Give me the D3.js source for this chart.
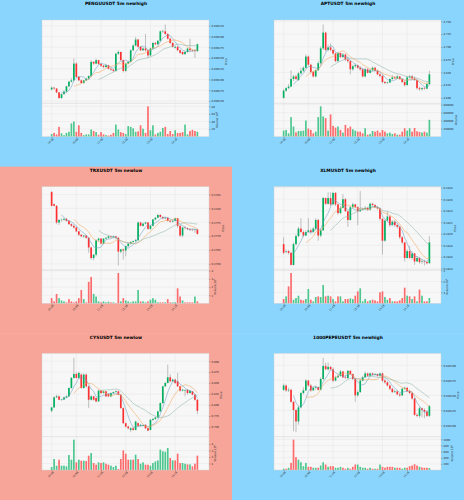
<!DOCTYPE html>
<meta charset="utf-8">
<title>5m scanner</title>
<style>
  body { margin: 0; background: #fff; }
  text { font-family: "DejaVu Sans", sans-serif; }
</style>
<body>
<script src="https://cdn.jsdelivr.net/npm/d3@7/dist/d3.min.js"></script>
<script>

var W = 464, H = 500;
var panelW = 232, panelH = 500 / 3;
var blue = '#8ad5fd', salmon = '#f7a598';

// x tick labels (every 10 candles)
var timeIdx = [0, 10, 20, 30, 40, 50];
var timeLabels = ['10:05', '10:55', '11:45', '12:35', '13:25', '14:15'];

// ---------- PENGUUSDT  [open, high, low, close]
var penguOHLC = [
  [0.009177,0.009184,0.009175,0.009181],[0.009181,0.009182,0.009177,0.009179],[0.009179,0.009180,0.009168,0.009170],
  [0.009170,0.009171,0.009155,0.009157],[0.009157,0.009168,0.009155,0.009166],[0.009166,0.009175,0.009164,0.009172],
  [0.009172,0.009186,0.009170,0.009184],[0.009184,0.009197,0.009182,0.009195],[0.009195,0.009203,0.009193,0.009198],
  [0.009198,0.009249,0.009196,0.009237],[0.009237,0.009240,0.009204,0.009206],[0.009206,0.009208,0.009196,0.009198],
  [0.009198,0.009200,0.009190,0.009192],[0.009192,0.009199,0.009190,0.009198],[0.009198,0.009204,0.009196,0.009202],
  [0.009202,0.009210,0.009200,0.009208],[0.009208,0.009245,0.009206,0.009241],[0.009241,0.009243,0.009234,0.009237],
  [0.009237,0.009248,0.009235,0.009245],[0.009245,0.009246,0.009234,0.009236],[0.009236,0.009238,0.009229,0.009232],
  [0.009232,0.009234,0.009226,0.009229],[0.009229,0.009235,0.009227,0.009233],[0.009233,0.009234,0.009223,0.009225],
  [0.009225,0.009227,0.009220,0.009223],[0.009223,0.009224,0.009217,0.009220],[0.009220,0.009262,0.009218,0.009260],
  [0.009260,0.009268,0.009257,0.009264],[0.009264,0.009265,0.009243,0.009245],[0.009245,0.009247,0.009216,0.009220],
  [0.009220,0.009239,0.009218,0.009237],[0.009237,0.009244,0.009235,0.009241],[0.009241,0.009270,0.009239,0.009268],
  [0.009268,0.009282,0.009266,0.009279],[0.009279,0.009299,0.009277,0.009293],[0.009293,0.009294,0.009274,0.009276],
  [0.009276,0.009278,0.009266,0.009268],[0.009268,0.009275,0.009266,0.009272],[0.009272,0.009306,0.009265,0.009268],
  [0.009268,0.009270,0.009250,0.009256],[0.009256,0.009274,0.009254,0.009272],[0.009272,0.009287,0.009270,0.009285],
  [0.009285,0.009288,0.009280,0.009282],[0.009282,0.009292,0.009280,0.009290],[0.009290,0.009314,0.009288,0.009312],
  [0.009312,0.009316,0.009308,0.009313],[0.009312,0.009328,0.009304,0.009306],[0.009306,0.009308,0.009293,0.009295],
  [0.009295,0.009297,0.009283,0.009285],[0.009285,0.009287,0.009274,0.009276],[0.009274,0.009279,0.009272,0.009276],
  [0.009276,0.009278,0.009266,0.009268],[0.009268,0.009270,0.009260,0.009262],[0.009264,0.009266,0.009257,0.009259],
  [0.009259,0.009266,0.009257,0.009264],[0.009264,0.009274,0.009262,0.009272],[0.009272,0.009295,0.009266,0.009268],
  [0.009268,0.009270,0.009264,0.009267],[0.009268,0.009270,0.009250,0.009266],[0.009266,0.009284,0.009264,0.009282]
];
var penguVol = [7e6,10e6,6e6,26e6,9e6,4e6,10e6,13e6,35e6,40e6,13e6,30e6,10e6,4e6,6e6,6e6,19e6,15e6,12e6,5e6,
  12e6,6e6,4e6,3e6,5e6,10e6,32e6,19e6,12e6,10e6,7e6,28e6,26e6,22e6,13e6,14e6,30e6,21e6,10e6,80e6,
  17e6,30e6,6e6,10e6,13e6,23e6,26e6,7e6,15e6,7e6,17e6,10e6,10e6,12e6,32e6,6e6,15e6,18e6,15e6,13e6];
var penguPriceTicks = [0.009150,0.009175,0.009200,0.009225,0.009250,0.009275,0.009300,0.009325];
var penguVolTicks = [20e6,40e6,60e6,80e6];

// ---------- APTUSDT
var aptOHLC = [
  [4.600,4.617,4.598,4.614],[4.614,4.621,4.612,4.619],[4.619,4.627,4.617,4.622],[4.622,4.654,4.621,4.637],
  [4.637,4.645,4.633,4.642],[4.642,4.645,4.635,4.637],[4.635,4.651,4.633,4.648],[4.648,4.659,4.646,4.653],
  [4.653,4.662,4.651,4.659],[4.659,4.685,4.657,4.681],[4.681,4.683,4.663,4.665],[4.665,4.667,4.648,4.651],
  [4.651,4.653,4.640,4.642],[4.642,4.656,4.640,4.654],[4.654,4.672,4.653,4.668],[4.668,4.701,4.665,4.697],
  [4.697,4.744,4.694,4.728],[4.728,4.730,4.691,4.694],[4.694,4.704,4.691,4.699],[4.699,4.707,4.691,4.694],
  [4.694,4.695,4.685,4.687],[4.687,4.688,4.670,4.672],[4.672,4.689,4.670,4.688],[4.688,4.689,4.678,4.680],
  [4.680,4.688,4.678,4.685],[4.685,4.687,4.672,4.675],[4.675,4.680,4.669,4.672],[4.672,4.674,4.646,4.656],
  [4.656,4.665,4.653,4.662],[4.662,4.668,4.659,4.664],[4.664,4.665,4.657,4.659],[4.659,4.662,4.653,4.656],
  [4.656,4.659,4.640,4.642],[4.642,4.659,4.640,4.656],[4.656,4.659,4.648,4.649],[4.649,4.657,4.648,4.654],
  [4.654,4.662,4.653,4.659],[4.659,4.661,4.651,4.653],[4.653,4.655,4.645,4.646],[4.646,4.649,4.640,4.643],
  [4.643,4.645,4.628,4.631],[4.631,4.633,4.627,4.629],[4.629,4.632,4.627,4.630],[4.630,4.638,4.629,4.637],
  [4.637,4.645,4.635,4.640],[4.640,4.643,4.637,4.638],[4.638,4.645,4.637,4.642],[4.642,4.643,4.635,4.637],
  [4.637,4.638,4.629,4.631],[4.631,4.633,4.622,4.625],[4.625,4.643,4.624,4.640],[4.640,4.645,4.638,4.642],
  [4.642,4.645,4.635,4.638],[4.638,4.642,4.633,4.635],[4.635,4.638,4.616,4.619],[4.619,4.622,4.614,4.617],
  [4.617,4.621,4.614,4.619],[4.619,4.622,4.616,4.618],[4.618,4.630,4.617,4.627],[4.627,4.653,4.625,4.646]
];
var aptVol = [151000,168000,84000,487000,252000,109000,143000,143000,151000,403000,202000,168000,84000,126000,487000,
  756000,504000,462000,151000,554000,269000,227000,252000,168000,101000,294000,210000,252000,185000,151000,
  126000,126000,84000,210000,50000,67000,143000,126000,151000,101000,168000,126000,84000,101000,67000,
  84000,50000,50000,126000,210000,151000,210000,126000,218000,134000,118000,101000,126000,101000,420000];
var aptPriceTicks = [4.600,4.625,4.650,4.675,4.700,4.725,4.750];
var aptVolTicks = [200000,400000,600000,800000];

// ---------- TRXUSDT
var trxOHLC = [
  [0.27859,0.27862,0.27807,0.27809],[0.27815,0.27818,0.27807,0.27809],[0.27809,0.27812,0.27743,0.27749],
  [0.27749,0.27762,0.27740,0.27758],[0.27758,0.27762,0.27752,0.27759],[0.27759,0.27766,0.27755,0.27762],
  [0.27762,0.27766,0.27752,0.27755],[0.27755,0.27757,0.27740,0.27743],[0.27743,0.27746,0.27733,0.27737],
  [0.27737,0.27742,0.27726,0.27731],[0.27731,0.27735,0.27714,0.27717],[0.27717,0.27720,0.27700,0.27705],
  [0.27705,0.27708,0.27696,0.27699],[0.27699,0.27704,0.27693,0.27702],[0.27702,0.27704,0.27690,0.27694],
  [0.27694,0.27697,0.27640,0.27659],[0.27659,0.27662,0.27615,0.27621],[0.27621,0.27635,0.27613,0.27633],
  [0.27633,0.27688,0.27627,0.27685],[0.27685,0.27694,0.27680,0.27691],[0.27691,0.27693,0.27670,0.27673],
  [0.27673,0.27692,0.27670,0.27691],[0.27691,0.27697,0.27688,0.27694],[0.27694,0.27702,0.27690,0.27699],
  [0.27699,0.27702,0.27693,0.27696],[0.27696,0.27702,0.27692,0.27699],[0.27699,0.27701,0.27690,0.27694],
  [0.27694,0.27697,0.27594,0.27644],[0.27644,0.27654,0.27638,0.27652],[0.27652,0.27655,0.27615,0.27648],
  [0.27648,0.27666,0.27627,0.27664],[0.27664,0.27675,0.27660,0.27673],[0.27673,0.27681,0.27670,0.27679],
  [0.27679,0.27684,0.27676,0.27682],[0.27682,0.27690,0.27679,0.27685],[0.27685,0.27752,0.27682,0.27749],
  [0.27749,0.27752,0.27735,0.27737],[0.27737,0.27748,0.27733,0.27745],[0.27745,0.27752,0.27742,0.27749],
  [0.27749,0.27751,0.27722,0.27726],[0.27726,0.27740,0.27722,0.27737],[0.27737,0.27762,0.27735,0.27760],
  [0.27760,0.27769,0.27757,0.27766],[0.27766,0.27780,0.27764,0.27776],[0.27776,0.27779,0.27766,0.27769],
  [0.27769,0.27771,0.27760,0.27764],[0.27764,0.27769,0.27760,0.27766],[0.27766,0.27767,0.27752,0.27755],
  [0.27755,0.27757,0.27749,0.27752],[0.27752,0.27757,0.27749,0.27755],[0.27755,0.27766,0.27753,0.27764],
  [0.27764,0.27766,0.27730,0.27737],[0.27737,0.27740,0.27696,0.27702],[0.27702,0.27733,0.27696,0.27731],
  [0.27731,0.27735,0.27724,0.27729],[0.27729,0.27731,0.27722,0.27726],[0.27726,0.27728,0.27720,0.27723],
  [0.27723,0.27726,0.27718,0.27722],[0.27722,0.27726,0.27712,0.27724],[0.27724,0.27726,0.27705,0.27708]
];
var trxVol = [6.4e6,2.4e6,11.6e6,6.4e6,3.6e6,2.4e6,1.2e6,5.2e6,2.4e6,1.2e6,2.4e6,6.4e6,16.4e6,5.2e6,1.2e6,
  26.4e6,32.4e6,11.6e6,8.4e6,2.4e6,1.2e6,2.4e6,1.2e6,2.0e6,1.2e6,1.2e6,0.4e6,37.2e6,2.4e6,6.4e6,
  3.6e6,2.4e6,1.2e6,2.4e6,2.4e6,16.4e6,2.4e6,2.4e6,1.2e6,2.4e6,4.4e6,6.4e6,4.4e6,1.2e6,1.2e6,
  1.2e6,1.2e6,5.2e6,1.2e6,1.2e6,1.2e6,18.4e6,8.4e6,3.6e6,1.2e6,1.2e6,1.2e6,1.2e6,8.4e6,2.4e6];
var trxPriceTicks = [0.2760,0.2765,0.2770,0.2775,0.2780,0.2785];
var trxVolTicks = [1e7,2e7,3e7,4e7];

// ---------- XLMUSDT
var xlmOHLC = [
  [0.38182,0.38194,0.38164,0.38167],[0.38169,0.38173,0.38166,0.38170],[0.38170,0.38172,0.38164,0.38167],
  [0.38167,0.38169,0.38145,0.38146],[0.38146,0.38185,0.38145,0.38182],[0.38182,0.38199,0.38180,0.38196],
  [0.38196,0.38212,0.38194,0.38209],[0.38209,0.38227,0.38202,0.38203],[0.38203,0.38206,0.38194,0.38197],
  [0.38197,0.38206,0.38196,0.38203],[0.38203,0.38227,0.38202,0.38206],[0.38206,0.38209,0.38200,0.38203],
  [0.38203,0.38212,0.38202,0.38209],[0.38209,0.38227,0.38206,0.38224],[0.38224,0.38226,0.38188,0.38197],
  [0.38197,0.38209,0.38194,0.38206],[0.38206,0.38264,0.38205,0.38262],[0.38262,0.38263,0.38250,0.38252],
  [0.38252,0.38272,0.38251,0.38262],[0.38262,0.38272,0.38248,0.38251],[0.38251,0.38272,0.38250,0.38271],
  [0.38271,0.38272,0.38248,0.38251],[0.38251,0.38252,0.38233,0.38236],[0.38236,0.38248,0.38234,0.38245],
  [0.38245,0.38269,0.38244,0.38260],[0.38260,0.38262,0.38238,0.38239],[0.38239,0.38240,0.38212,0.38224],
  [0.38224,0.38248,0.38223,0.38246],[0.38246,0.38254,0.38245,0.38251],[0.38251,0.38252,0.38244,0.38246],
  [0.38246,0.38248,0.38215,0.38239],[0.38239,0.38274,0.38238,0.38242],[0.38242,0.38245,0.38240,0.38243],
  [0.38243,0.38248,0.38242,0.38245],[0.38245,0.38246,0.38240,0.38242],[0.38242,0.38254,0.38240,0.38252],
  [0.38252,0.38254,0.38248,0.38250],[0.38250,0.38251,0.38245,0.38246],[0.38246,0.38248,0.38242,0.38244],
  [0.38244,0.38245,0.38223,0.38226],[0.38226,0.38227,0.38164,0.38188],[0.38188,0.38224,0.38186,0.38223],
  [0.38223,0.38239,0.38221,0.38230],[0.38230,0.38232,0.38212,0.38215],[0.38215,0.38224,0.38214,0.38221],
  [0.38221,0.38224,0.38212,0.38215],[0.38215,0.38218,0.38209,0.38212],[0.38212,0.38214,0.38191,0.38194],
  [0.38194,0.38196,0.38182,0.38185],[0.38185,0.38186,0.38152,0.38158],[0.38158,0.38173,0.38157,0.38170],
  [0.38170,0.38179,0.38157,0.38158],[0.38158,0.38169,0.38155,0.38166],[0.38166,0.38167,0.38146,0.38152],
  [0.38152,0.38161,0.38151,0.38158],[0.38158,0.38160,0.38148,0.38151],[0.38151,0.38155,0.38148,0.38152],
  [0.38152,0.38155,0.38145,0.38151],[0.38151,0.38152,0.38147,0.38149],[0.38149,0.38196,0.38148,0.38185]
];
var xlmVol = [394000,636000,1545000,2758000,333000,485000,697000,333000,273000,394000,1303000,333000,182000,576000,636000,
  576000,1667000,636000,697000,636000,394000,182000,636000,636000,182000,394000,394000,455000,394000,697000,
  1091000,1364000,182000,394000,182000,273000,333000,273000,182000,1000000,1091000,576000,333000,485000,182000,
  182000,182000,273000,485000,1424000,697000,636000,394000,636000,182000,1242000,697000,182000,182000,485000];
var xlmPriceTicks = [0.3814,0.3816,0.3818,0.3820,0.3822,0.3824,0.3826,0.3828];
var xlmVolTicks = [1e6,2e6,3e6];

// ---------- CYSUSDT
var cysOHLC = [
  [0.7868,0.7959,0.7830,0.7944],[0.7944,0.8197,0.7929,0.8174],[0.8174,0.8235,0.8159,0.8197],[0.8197,0.8220,0.8110,0.8120],
  [0.8120,0.8140,0.8100,0.8125],[0.8125,0.8190,0.8110,0.8174],[0.8174,0.8220,0.8160,0.8197],[0.8197,0.8400,0.8180,0.8388],
  [0.8388,0.8640,0.8370,0.8618],[0.8618,0.9077,0.8600,0.8709],[0.8709,0.8740,0.8600,0.8618],[0.8618,0.8760,0.8600,0.8732],
  [0.8694,0.8720,0.8370,0.8388],[0.8388,0.8720,0.8370,0.8694],[0.8694,0.8720,0.8400,0.8426],[0.8426,0.8440,0.7929,0.8120],
  [0.8120,0.8220,0.8100,0.8197],[0.8197,0.8210,0.8100,0.8120],[0.8159,0.8170,0.8060,0.8082],[0.8082,0.8350,0.8070,0.8327],
  [0.8327,0.8340,0.8250,0.8273],[0.8273,0.8330,0.8260,0.8312],[0.8312,0.8320,0.8180,0.8197],[0.8250,0.8270,0.8180,0.8197],
  [0.8197,0.8290,0.8180,0.8273],[0.8273,0.8310,0.8260,0.8296],[0.8296,0.8340,0.8280,0.8312],[0.8312,0.8330,0.8220,0.8235],
  [0.8235,0.8250,0.7914,0.7929],[0.7929,0.7950,0.7570,0.7585],[0.7585,0.7600,0.7490,0.7508],[0.7508,0.7530,0.7440,0.7470],
  [0.7432,0.7490,0.7380,0.7470],[0.7470,0.7500,0.7410,0.7432],[0.7432,0.7640,0.7420,0.7623],[0.7585,0.7600,0.7500,0.7524],
  [0.7524,0.7570,0.7510,0.7547],[0.7524,0.7560,0.7510,0.7540],[0.7547,0.7560,0.7450,0.7470],[0.7470,0.7490,0.7400,0.7416],
  [0.7432,0.7680,0.7420,0.7661],[0.7661,0.7700,0.7640,0.7684],[0.7684,0.7730,0.7660,0.7715],[0.7715,0.7870,0.7700,0.7853],
  [0.7853,0.8060,0.7840,0.8044],[0.8044,0.8440,0.8030,0.8426],[0.8426,0.8520,0.8410,0.8503],[0.8503,0.8923,0.8490,0.8633],
  [0.8633,0.8700,0.8520,0.8541],[0.8541,0.8600,0.8530,0.8579],[0.8579,0.8600,0.8480,0.8503],[0.8541,0.8732,0.8410,0.8426],
  [0.8426,0.8440,0.8300,0.8327],[0.8327,0.8370,0.8310,0.8350],[0.8327,0.8360,0.8200,0.8340],[0.8350,0.8360,0.8240,0.8273],
  [0.8273,0.8340,0.8260,0.8327],[0.8312,0.8320,0.8220,0.8235],[0.8235,0.8250,0.8100,0.8120],[0.8120,0.8140,0.7791,0.7868]
];
var cysVol = [462000,1692000,667000,1590000,667000,667000,564000,2308000,1590000,4667000,1179000,1590000,1436000,1436000,1385000,
  2205000,2615000,1077000,821000,1179000,1077000,1179000,974000,821000,667000,462000,667000,154000,1692000,3026000,
  2513000,1590000,1590000,1590000,2359000,1692000,974000,1179000,821000,821000,667000,1077000,1333000,1487000,3128000,
  2872000,2821000,3385000,1846000,1487000,1487000,2513000,1077000,1077000,974000,872000,872000,564000,974000,2205000];
var cysPriceTicks = [0.725,0.750,0.775,0.800,0.825,0.850,0.875,0.900];
var cysVolTicks = [1e6,2e6,3e6,4e6];

// ---------- 1000PEPEUSDT
var pepeOHLC = [
  [0.0102592,0.0102693,0.0102571,0.0102663],[0.0102663,0.0102680,0.0102554,0.0102582],[0.0102582,0.0102625,0.0102554,0.0102592],
  [0.0102592,0.0102609,0.0102375,0.0102391],[0.0102391,0.0102408,0.0101902,0.0102255],[0.0102255,0.0102266,0.0101886,0.0102065],
  [0.0102065,0.0102321,0.0102011,0.0102299],[0.0102299,0.0102554,0.0102283,0.0102538],[0.0102538,0.0102636,0.0102516,0.0102582],
  [0.0102582,0.0102772,0.0102571,0.0102745],[0.0102745,0.0102755,0.0102647,0.0102663],[0.0102663,0.0102690,0.0102554,0.0102582],
  [0.0102582,0.0102647,0.0102571,0.0102625],[0.0102625,0.0102663,0.0102592,0.0102636],[0.0102636,0.0102647,0.0102582,0.0102592],
  [0.0102592,0.0102799,0.0102582,0.0102772],[0.0102772,0.0103125,0.0102755,0.0102989],[0.0102989,0.0103043,0.0102918,0.0102935],
  [0.0102935,0.0103043,0.0102908,0.0102973],[0.0102973,0.0102989,0.0102918,0.0102935],[0.0102935,0.0102962,0.0102717,0.0102745],
  [0.0102745,0.0102826,0.0102734,0.0102799],[0.0102799,0.0102853,0.0102788,0.0102826],[0.0102826,0.0102918,0.0102810,0.0102897],
  [0.0102897,0.0102908,0.0102788,0.0102799],[0.0102799,0.0102842,0.0102772,0.0102788],[0.0102788,0.0102918,0.0102772,0.0102908],
  [0.0102908,0.0102918,0.0102842,0.0102853],[0.0102853,0.0102864,0.0102755,0.0102772],[0.0102772,0.0102788,0.0102391,0.0102500],
  [0.0102500,0.0102582,0.0102473,0.0102554],[0.0102554,0.0102772,0.0102538,0.0102745],[0.0102745,0.0102826,0.0102734,0.0102799],
  [0.0102799,0.0102897,0.0102788,0.0102864],[0.0102864,0.0102880,0.0102810,0.0102826],[0.0102826,0.0102880,0.0102810,0.0102864],
  [0.0102864,0.0102880,0.0102826,0.0102842],[0.0102842,0.0102875,0.0102826,0.0102853],[0.0102853,0.0102864,0.0102810,0.0102826],
  [0.0102826,0.0102880,0.0102810,0.0102864],[0.0102864,0.0102880,0.0102717,0.0102745],[0.0102745,0.0102772,0.0102690,0.0102717],
  [0.0102717,0.0102734,0.0102647,0.0102663],[0.0102663,0.0102680,0.0102582,0.0102609],[0.0102609,0.0102625,0.0102538,0.0102554],
  [0.0102554,0.0102592,0.0102538,0.0102565],[0.0102565,0.0102582,0.0102500,0.0102516],[0.0102516,0.0102538,0.0102473,0.0102500],
  [0.0102500,0.0102625,0.0102484,0.0102609],[0.0102609,0.0102647,0.0102592,0.0102625],[0.0102625,0.0102636,0.0102554,0.0102571],
  [0.0102571,0.0102592,0.0102516,0.0102538],[0.0102538,0.0102554,0.0102429,0.0102446],[0.0102446,0.0102462,0.0102158,0.0102174],
  [0.0102174,0.0102201,0.0102136,0.0102158],[0.0102158,0.0102310,0.0102120,0.0102283],[0.0102283,0.0102299,0.0102136,0.0102255],
  [0.0102255,0.0102283,0.0102120,0.0102228],[0.0102228,0.0102255,0.0102136,0.0102158],[0.0102158,0.0102337,0.0102136,0.0102321]
];
var pepeVol = [42e6,42e6,74e6,232e6,989e6,421e6,337e6,253e6,126e6,232e6,105e6,105e6,74e6,74e6,74e6,
  147e6,253e6,179e6,105e6,126e6,126e6,74e6,74e6,105e6,74e6,42e6,74e6,42e6,105e6,179e6,
  179e6,105e6,74e6,74e6,42e6,74e6,42e6,42e6,42e6,179e6,105e6,74e6,105e6,105e6,105e6,
  74e6,74e6,74e6,42e6,74e6,74e6,126e6,147e6,189e6,147e6,105e6,84e6,74e6,74e6,63e6];
var pepePriceTicks = [0.010200,0.010225,0.010250,0.010275,0.010300];
var pepeVolTicks = [200e6,400e6,600e6,800e6,1000e6];

var panels = [
  {title: 'PENGUUSDT 5m newhigh', ohlc: penguOHLC, vol: penguVol, pTicks: penguPriceTicks, pFmt: '.6f', vTicks: penguVolTicks, vExp: 6, col: 0, row: 0, bg: blue},
  {title: 'APTUSDT 5m newhigh', ohlc: aptOHLC, vol: aptVol, pTicks: aptPriceTicks, pFmt: '.3f', vTicks: aptVolTicks, vExp: 0, col: 1, row: 0, bg: blue},
  {title: 'TRXUSDT 5m newlow', ohlc: trxOHLC, vol: trxVol, pTicks: trxPriceTicks, pFmt: '.4f', vTicks: trxVolTicks, vExp: 7, col: 0, row: 1, bg: salmon},
  {title: 'XLMUSDT 5m newhigh', ohlc: xlmOHLC, vol: xlmVol, pTicks: xlmPriceTicks, pFmt: '.4f', vTicks: xlmVolTicks, vExp: 6, col: 1, row: 1, bg: blue},
  {title: 'CYSUSDT 5m newlow', ohlc: cysOHLC, vol: cysVol, pTicks: cysPriceTicks, pFmt: '.3f', vTicks: cysVolTicks, vExp: 6, col: 0, row: 2, bg: salmon},
  {title: '1000PEPEUSDT 5m newhigh', ohlc: pepeOHLC, vol: pepeVol, pTicks: pepePriceTicks, pFmt: '.6f', vTicks: pepeVolTicks, vExp: 6, col: 1, row: 2, bg: blue}
];

var upC = '#00b060', downC = '#fe3032', upV = '#4dc790', downV = '#fd6b6c', wickC = '#7a7a7a';
var mavs = [5, 10, 20];
var mavColors = ['#6b9fc0', '#f2a65a', '#8db3aa'];

var plotL = 42, plotR = 209, plotT = 20, plotSplit = 103.3, plotB = 136.7;

var svg = d3.select('body').append('svg')
    .attr('width', W).attr('height', H)
    .style('display', 'block');

panels.forEach(function(p) {
  var g = svg.append('g')
      .attr('transform', 'translate(' + (p.col * panelW) + ',' + (p.row * panelH) + ')');

  g.append('rect').attr('width', panelW).attr('height', panelH + 0.5).attr('fill', p.bg);

  var x = d3.scaleLinear().domain([-3.9, 63.7]).range([plotL, plotR]);
  var lo = d3.min(p.ohlc, function(d) { return d[2]; });
  var hi = d3.max(p.ohlc, function(d) { return d[1]; });
  var pad = (hi - lo) * 0.06;
  var y = d3.scaleLinear().domain([lo - pad, hi + pad]).range([plotSplit, plotT]);
  var yv = d3.scaleLinear().domain([0, d3.max(p.vol) * 1.1]).range([plotB, plotSplit]);
  var step = x(1) - x(0);
  var pTicks = p.pTicks.filter(function(t) { return y(t) > plotT - 0.5 && y(t) < plotSplit + 0.5; });

  // title
  g.append('text')
      .attr('x', panelW / 2).attr('y', 5.2)
      .attr('text-anchor', 'middle')
      .style('font-size', '4.4px').style('font-weight', 'bold')
      .text(p.title);

  // plot area
  g.append('rect')
      .attr('x', plotL).attr('y', plotT)
      .attr('width', plotR - plotL).attr('height', plotB - plotT)
      .attr('fill', '#f7f7f7');

  // grid
  var grid = g.append('g').attr('stroke', '#e3e3e3').attr('stroke-width', 0.4);
  grid.selectAll('.vx').data(timeIdx).enter().append('line')
      .attr('x1', function(d) { return x(d); }).attr('x2', function(d) { return x(d); })
      .attr('y1', plotT).attr('y2', plotB);
  grid.selectAll('.hy').data(pTicks).enter().append('line')
      .attr('x1', plotL).attr('x2', plotR)
      .attr('y1', function(d) { return y(d); }).attr('y2', function(d) { return y(d); });
  grid.selectAll('.hv').data(p.vTicks).enter().append('line')
      .attr('x1', plotL).attr('x2', plotR)
      .attr('y1', function(d) { return yv(d); }).attr('y2', function(d) { return yv(d); });

  // volume
  g.append('g').selectAll('rect').data(p.vol).enter().append('rect')
      .attr('x', function(d, i) { return x(i) - step * 0.34; })
      .attr('width', step * 0.68)
      .attr('y', function(d) { return yv(d); })
      .attr('height', function(d) { return plotB - yv(d); })
      .attr('fill', function(d, i) { return p.ohlc[i][3] >= p.ohlc[i][0] ? upV : downV; });

  // wicks
  g.append('g').selectAll('line').data(p.ohlc).enter().append('line')
      .attr('x1', function(d, i) { return x(i); }).attr('x2', function(d, i) { return x(i); })
      .attr('y1', function(d) { return y(d[1]); }).attr('y2', function(d) { return y(d[2]); })
      .attr('stroke', wickC).attr('stroke-width', 0.45);

  // bodies
  g.append('g').selectAll('rect').data(p.ohlc).enter().append('rect')
      .attr('x', function(d, i) { return x(i) - step * 0.34; })
      .attr('width', step * 0.68)
      .attr('y', function(d) { return y(Math.max(d[0], d[3])); })
      .attr('height', function(d) { return Math.max(0.4, Math.abs(y(d[0]) - y(d[3]))); })
      .attr('fill', function(d) { return d[3] >= d[0] ? upC : downC; });

  // moving averages
  var closes = p.ohlc.map(function(d) { return d[3]; });
  mavs.forEach(function(m, k) {
    var vals = closes.map(function(c, i) {
      return i < m - 1 ? null : d3.mean(closes.slice(i - m + 1, i + 1));
    });
    var line = d3.line()
        .defined(function(d) { return d !== null; })
        .x(function(d, i) { return x(i); })
        .y(function(d) { return y(d); });
    g.append('path').datum(vals)
        .attr('d', line)
        .attr('fill', 'none')
        .attr('stroke', mavColors[k])
        .attr('stroke-width', 0.55);
  });

  // frame and pane split
  g.append('rect')
      .attr('x', plotL).attr('y', plotT)
      .attr('width', plotR - plotL).attr('height', plotB - plotT)
      .attr('fill', 'none').attr('stroke', '#d0d0d0').attr('stroke-width', 0.4);
  g.append('line')
      .attr('x1', plotL).attr('x2', plotR).attr('y1', plotSplit).attr('y2', plotSplit)
      .attr('stroke', '#c8c8c8').attr('stroke-width', 0.4);

  // right axes
  var pAxis = g.append('g')
      .attr('transform', 'translate(' + plotR + ',0)')
      .call(d3.axisRight(y)
        .tickValues(pTicks)
        .tickFormat(d3.format(p.pFmt))
        .tickSize(1.4).tickPadding(1.2));
  var vAxis = g.append('g')
      .attr('transform', 'translate(' + plotR + ',0)')
      .call(d3.axisRight(yv)
        .tickValues(p.vTicks)
        .tickFormat(function(d) { return d3.format('d')(Math.round(d / Math.pow(10, p.vExp))); })
        .tickSize(1.4).tickPadding(1.2));
  [pAxis, vAxis].forEach(function(a) {
    a.attr('font-size', null).attr('font-family', null);
    a.select('.domain').remove();
    a.selectAll('line').attr('stroke', '#444').attr('stroke-width', 0.35);
    a.selectAll('text').style('font-size', '2.6px').attr('fill', '#222');
  });

  // bottom axis
  var xAxis = g.append('g')
      .attr('transform', 'translate(0,' + plotB + ')')
      .call(d3.axisBottom(x).tickValues(timeIdx)
        .tickFormat(function(d, i) { return timeLabels[i]; })
        .tickSize(1.4));
  xAxis.attr('font-size', null).attr('font-family', null);
  xAxis.select('.domain').remove();
  xAxis.selectAll('line').attr('stroke', '#444').attr('stroke-width', 0.35);
  xAxis.selectAll('text')
      .style('font-size', '2.6px').attr('fill', '#222')
      .attr('text-anchor', 'end')
      .attr('dy', '0.7em').attr('y', 1.8).attr('x', 0.8)
      .attr('transform', 'rotate(-45,0,1.8)');

  // y labels
  function widest(sel) {
    var w = 0;
    sel.selectAll('text').each(function() { w = Math.max(w, this.getComputedTextLength()); });
    return w;
  }
  var px = plotR + 2.6 + widest(pAxis) + 3.0;
  g.append('text')
      .attr('transform', 'translate(' + px + ',' + ((plotT + plotSplit) / 2) + ') rotate(-90)')
      .attr('text-anchor', 'middle')
      .style('font-size', '2.8px').attr('fill', '#222')
      .text('Price');
  var vx = plotR + 2.6 + widest(vAxis) + 3.0;
  var vl = g.append('text')
      .attr('transform', 'translate(' + vx + ',' + ((plotSplit + plotB) / 2) + ') rotate(-90)')
      .attr('text-anchor', 'middle')
      .style('font-size', '2.8px').attr('fill', '#222');
  vl.append('tspan').text(p.vExp ? 'Volume  10' : 'Volume');
  if (p.vExp) {
    vl.append('tspan').attr('dy', -1).style('font-size', '2px').text(p.vExp);
  }
});

</script>
